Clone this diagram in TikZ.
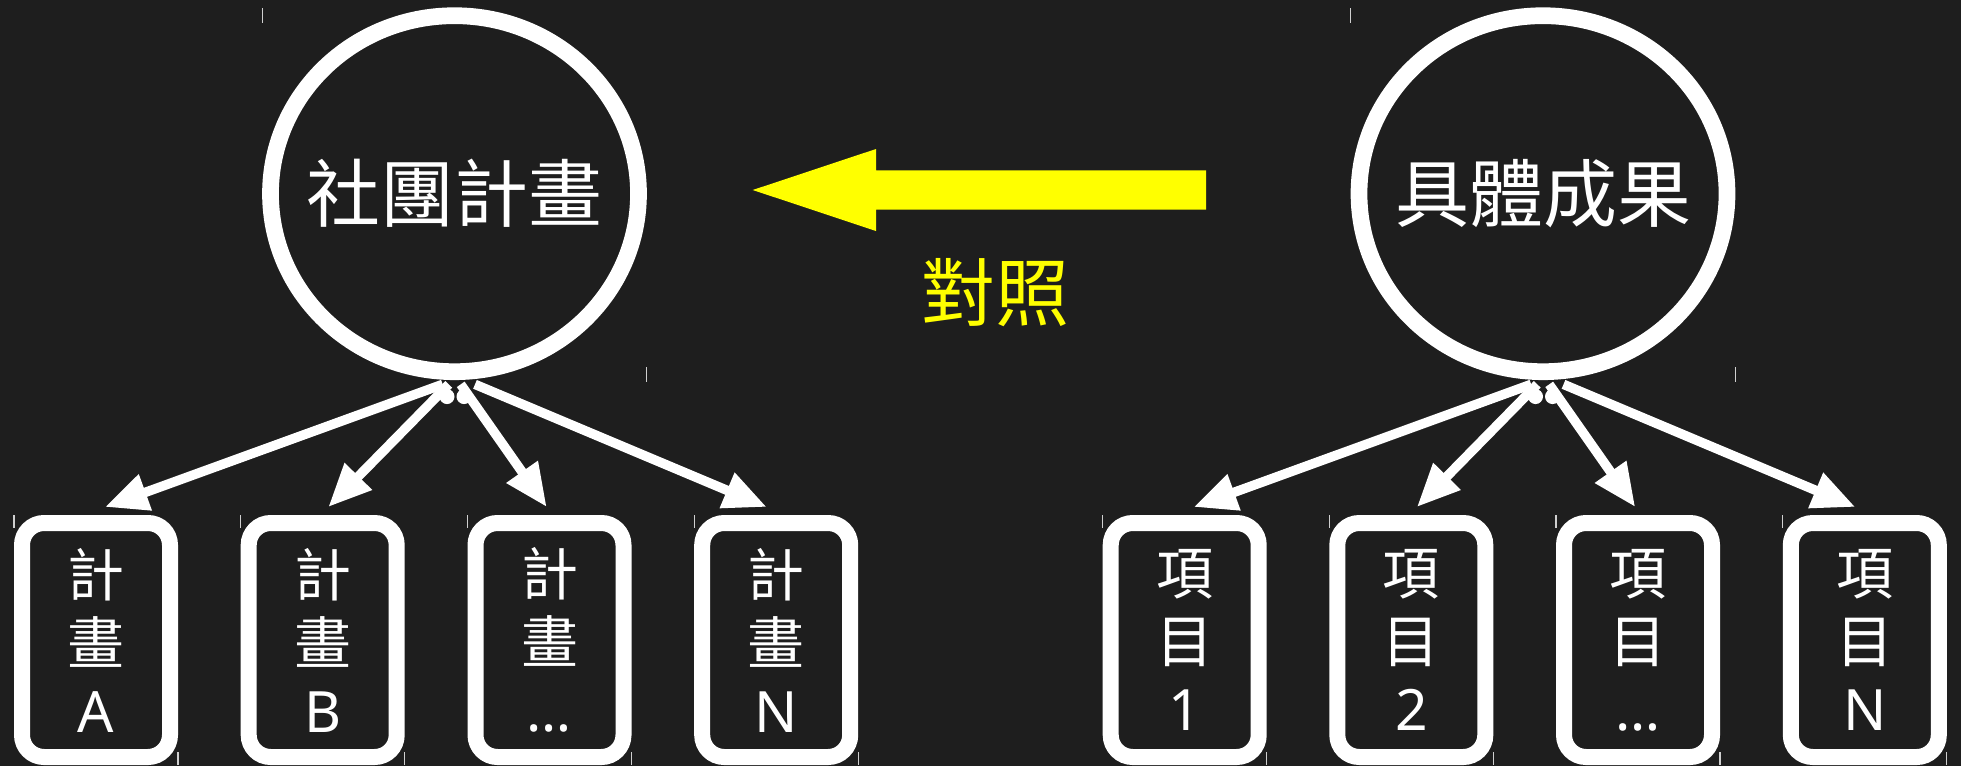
\documentclass[tikz,border=0pt]{standalone}
\usepackage{fontspec}
\setmainfont{Noto Sans}
\newfontfamily\cjk{Noto Sans CJK TC}
\usetikzlibrary{arrows.meta,shapes.geometric,backgrounds,calc}
\definecolor{bgc}{HTML}{1E1E1E}
\definecolor{cmpyellow}{HTML}{FFFF00}
\definecolor{markgray}{HTML}{D0D0D0}
\begin{document}
\begin{tikzpicture}[x=1pt,y=-1pt,
  bigcirc/.style={draw=white, line width=16.7pt, fill=bgc, ellipse, minimum width=368pt, minimum height=356pt, inner sep=0pt, text=white, font=\cjk\fontsize{74}{80}\selectfont},
  itembox/.style={draw=white, line width=16pt, fill=bgc, rounded corners=22pt, minimum width=148pt, minimum height=234pt, inner sep=0pt, text=white, align=center, font=\fontsize{57}{68}\selectfont},
  linkarrow/.style={draw=white, line width=9.5pt, -{Triangle[length=43pt,width=36pt]}},
  bbmark/.style={draw=markgray, line width=1.2pt},
  blob/.style={fill=white},
  cmplabel/.style={text=cmpyellow, font=\cjk\fontsize{74}{80}\selectfont},
]
\useasboundingbox (0,0) rectangle (1961,766);

% main nodes
\node[bigcirc] (L) at (454.5,193.7) {\makebox[0pt]{社團計畫}};
\node[bigcirc] (R) at (1543,193.7) {\makebox[0pt]{具體成果}};

\node[itembox] (pA) at (96,640)    {{\cjk 計}\\{\cjk 畫}\\A};
\node[itembox] (pB) at (322.7,640) {{\cjk 計}\\{\cjk 畫}\\B};
\node[itembox] (pC) at (549.5,640) {{\cjk 計}\\{\cjk 畫}\\…};
\node[itembox] (pN) at (776.2,640) {{\cjk 計}\\{\cjk 畫}\\N};

\node[itembox] (i1) at (1184.7,640) {{\cjk 項}\\{\cjk 目}\\1};
\node[itembox] (i2) at (1411.3,640) {{\cjk 項}\\{\cjk 目}\\2};
\node[itembox] (iC) at (1638,640)   {{\cjk 項}\\{\cjk 目}\\…};
\node[itembox] (iN) at (1864.8,640) {{\cjk 項}\\{\cjk 目}\\N};

\node[cmplabel] (cmpText) at (995,293) {對照};

% yellow comparison arrow
\coordinate (cmpTip) at (752.7,190);
\coordinate (cmpTail) at (1206,190);
\fill[cmpyellow] (cmpTip) -- ++(123.3,-41) -- ++(0,21.35)
  -- ($(cmpTail)+(0,-19.65)$) -- ($(cmpTail)+(0,19.65)$)
  -- ($(cmpTip)+(123.3,19.65)$) -- ++(0,21.35) -- cycle;

% connectors
\foreach \src/\a/\b/\c/\d in {L/pA/pB/pC/pN, R/i1/i2/iC/iN}{
  \draw[linkarrow] ([xshift=-11.8pt,yshift=-4.3pt]\src.south) -- ([xshift=9pt,yshift=8pt]\a.north);
  \draw[linkarrow] ([xshift=-5.7pt,yshift=-4.3pt]\src.south) -- ([xshift=5.6pt,yshift=8pt]\b.north);
  \draw[linkarrow] ([xshift=6.2pt,yshift=-4.3pt]\src.south) -- ([xshift=-2.8pt,yshift=8pt]\c.north);
  \draw[linkarrow] ([xshift=20.5pt,yshift=-4.3pt]\src.south) -- ([xshift=-9.5pt,yshift=8pt]\d.north);
}

% blobs under circles
\foreach \n in {L,R}{
  \fill[blob] ($(\n.south)+(-7.5,16.5)$) circle[radius=7.5];
  \fill[blob] ($(\n.south)+(9.5,16.5)$) circle[radius=7.5];
}

\begin{scope}[on background layer]
\fill[bgc] (0,0) rectangle (1961,766);
% bounding marks
\foreach \n in {L,R}{
  \draw[bbmark] ($(\n.west |- 0,8)$) -- ++(0,15);
  \draw[bbmark] ($(\n.east |- 0,367)$) -- ++(0,15);
}
\foreach \n in {pA,pB,pC,pN,i1,i2,iC,iN}{
  \draw[bbmark] ($(\n.west |- 0,515)$) -- ++(0,13);
  \draw[bbmark] ($(\n.east |- 0,752)$) -- ++(0,13);
}
\end{scope}
\end{tikzpicture}
\end{document}
